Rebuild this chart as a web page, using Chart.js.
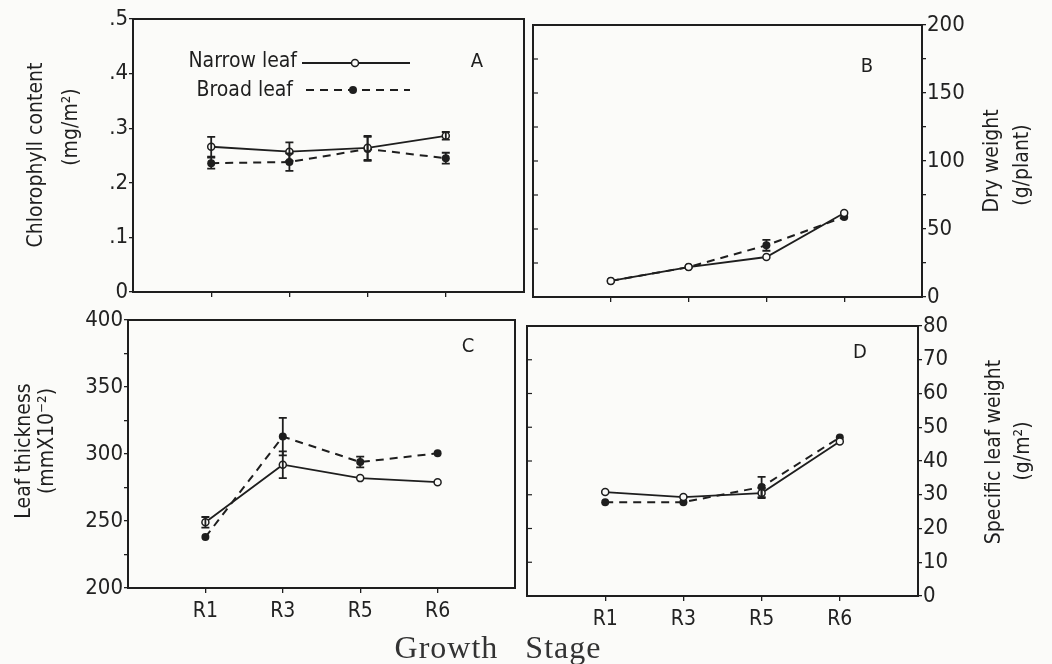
<!DOCTYPE html>
<html>
<head>
<meta charset="utf-8">
<script src="https://cdn.jsdelivr.net/npm/chart.js@4.4.1/dist/chart.umd.min.js"></script>
<style>
  body { margin: 0; background: #fbfbf9; }
  #wrap { position: relative; width: 1052px; height: 664px; overflow: hidden; }
  canvas { position: absolute; left: 0; top: 0; }
  .t { position: absolute; white-space: nowrap; color: #1e1e1e;
       font-family: 'Liberation Sans Narrow', 'DejaVu Sans Condensed', 'Arial Narrow', sans-serif;
       font-size: 21px; transform: translate(-50%, -50%) rotate(-90deg); }
  .stage { position: absolute; left: 498px; top: 647px; transform: translate(-50%, -50%);
           font-family: 'Liberation Serif', serif; font-size: 32px; color: #333;
           letter-spacing: 1px; word-spacing: 18px; white-space: nowrap; }
</style>
</head>
<body>
<div id="wrap">
  <canvas id="cA" width="1052" height="664"></canvas>
  <canvas id="cB" width="1052" height="664"></canvas>
  <canvas id="cC" width="1052" height="664"></canvas>
  <canvas id="cD" width="1052" height="664"></canvas>

  <div class="t" style="left:35px;top:155px">Chlorophyll content</div>
  <div class="t" style="left:70px;top:127px">(mg/m²)</div>
  <div class="t" style="left:991px;top:161px">Dry weight</div>
  <div class="t" style="left:1021px;top:165px">(g/plant)</div>
  <div class="t" style="left:23px;top:451px">Leaf thickness</div>
  <div class="t" style="left:46px;top:441px">(mmX10⁻²)</div>
  <div class="t" style="left:993px;top:452px">Specific leaf weight</div>
  <div class="t" style="left:1022px;top:451px">(g/m²)</div>
  <div class="stage">Growth Stage</div>
</div>

<script>
// growth stages on the x axis
const stages = ['R1', 'R3', 'R5', 'R6'];

// A: chlorophyll content (mg/m2)
const chlNarrow = [0.266, 0.257, 0.264, 0.286];
const chlNarrowErr = [0.018, 0.017, 0.022, 0.007];
const chlBroad = [0.236, 0.238, 0.262, 0.245];
const chlBroadErr = [0.010, 0.016, 0.022, 0.010];
const chlTicks = ['0', '.1', '.2', '.3', '.4', '.5'];

// B: dry weight (g/plant)
const dwNarrow = [11.8, 22, 29.4, 61.8];
const dwNarrowErr = [0, 0, 0, 0];
const dwBroad = [11.8, 22, 38, 58.8];
const dwBroadErr = [0, 0, 4, 0];
const dwTicks = ['0', '50', '100', '150', '200'];

// C: leaf thickness (mm x 10^-2)
const thkNarrow = [249, 292, 282, 279];
const thkNarrowErr = [4, 10, 0, 0];
const thkBroad = [238, 313, 294, 300.5];
const thkBroadErr = [0, 14, 4, 0];
const thkTicks = ['200', '250', '300', '350', '400'];

// D: specific leaf weight (g/m2)
const slwNarrow = [30.8, 29.3, 30.5, 45.8];
const slwNarrowErr = [0, 0, 1.5, 0];
const slwBroad = [27.8, 27.8, 32.3, 47];
const slwBroadErr = [0, 0, 3, 0];
const slwTicks = ['0', '10', '20', '30', '40', '50', '60', '70', '80'];

const INK = '#1e1e1e';
const NARROW_FONT = "'Liberation Sans Narrow', 'DejaVu Sans Condensed', 'Arial Narrow', sans-serif";

// box, error bars, inner ticks, panel letter
const panelPlugin = {
  id: 'panel',
  afterDatasetsDraw(chart, args, opts) {
    const ctx = chart.ctx;
    const a = chart.chartArea;
    const y = chart.scales.y;
    ctx.save();
    ctx.strokeStyle = INK;
    // error bars
    chart.data.datasets.forEach((ds, di) => {
      if (!ds.err) return;
      const meta = chart.getDatasetMeta(di);
      meta.data.forEach((pt, i) => {
        const e = ds.err[i];
        if (!e) return;
        const v = ds.data[i].y;
        const y1 = y.getPixelForValue(v - e), y2 = y.getPixelForValue(v + e);
        ctx.lineWidth = 1.8;
        ctx.beginPath();
        ctx.moveTo(pt.x, y1); ctx.lineTo(pt.x, y2);
        ctx.moveTo(pt.x - 4, y1); ctx.lineTo(pt.x + 4, y1);
        ctx.moveTo(pt.x - 4, y2); ctx.lineTo(pt.x + 4, y2);
        ctx.stroke();
      });
    });
    // frame
    ctx.lineWidth = 2;
    ctx.strokeRect(a.left, a.top, a.right - a.left, a.bottom - a.top);
    // inner ticks on the side without labels
    if (opts.innerTicks) {
      ctx.lineWidth = 1.2;
      const x0 = opts.innerTicks === 'left' ? a.left : a.right;
      const dir = opts.innerTicks === 'left' ? 1 : -1;
      y.ticks.forEach(t => {
        const py = y.getPixelForValue(t.value);
        ctx.beginPath(); ctx.moveTo(x0, py); ctx.lineTo(x0 + dir * 5, py); ctx.stroke();
      });
    }
    // panel letter
    ctx.fillStyle = INK;
    ctx.font = '20px ' + NARROW_FONT;
    ctx.textAlign = 'center';
    ctx.textBaseline = 'middle';
    ctx.fillText(opts.letter, opts.lx, opts.ly);
    ctx.restore();
  }
};

// legend inside panel A
const legendPlugin = {
  id: 'legendA',
  afterDraw(chart, args, opts) {
    if (!opts.show) return;
    const ctx = chart.ctx;
    ctx.save();
    ctx.fillStyle = INK;
    ctx.strokeStyle = INK;
    ctx.font = '21px ' + NARROW_FONT;
    ctx.textAlign = 'right';
    ctx.textBaseline = 'alphabetic';
    ctx.fillText('Narrow leaf', 297, 67);
    ctx.fillText('Broad leaf', 293, 96);
    ctx.lineWidth = 2;
    ctx.beginPath(); ctx.moveTo(302, 63); ctx.lineTo(410, 63); ctx.stroke();
    ctx.setLineDash([8, 6]);
    ctx.beginPath(); ctx.moveTo(306, 90); ctx.lineTo(410, 90); ctx.stroke();
    ctx.setLineDash([]);
    ctx.lineWidth = 1.5;
    ctx.fillStyle = '#fbfbf9';
    ctx.beginPath(); ctx.arc(355, 63, 3.5, 0, Math.PI * 2); ctx.fill(); ctx.stroke();
    ctx.fillStyle = INK;
    ctx.beginPath(); ctx.arc(353, 90, 4, 0, Math.PI * 2); ctx.fill();
    ctx.restore();
  }
};

function pts(vals) {
  return vals.map((v, i) => ({ x: i + 1, y: v }));
}

function makePanel(id, cfg) {
  const yWidth = 48, xHeight = 36;
  const pad = cfg.yPos === 'left'
    ? { left: cfg.area.left - yWidth, right: 1052 - cfg.area.right, top: cfg.area.top, bottom: 664 - cfg.area.bottom - xHeight }
    : { left: cfg.area.left, right: 1052 - cfg.area.right - yWidth, top: cfg.area.top, bottom: 664 - cfg.area.bottom - xHeight };
  new Chart(document.getElementById(id), {
    type: 'line',
    data: {
      datasets: [
        {
          label: 'Narrow leaf',
          data: pts(cfg.narrow), err: cfg.narrowErr,
          borderColor: INK, borderWidth: 1.8,
          pointRadius: 3.5, pointBackgroundColor: '#fbfbf9', pointBorderColor: INK, pointBorderWidth: 1.5,
          tension: 0
        },
        {
          label: 'Broad leaf',
          data: pts(cfg.broad), err: cfg.broadErr,
          borderColor: INK, borderWidth: 2, borderDash: [8, 6],
          pointRadius: 4, pointBackgroundColor: INK, pointBorderColor: INK, pointBorderWidth: 0,
          tension: 0
        }
      ]
    },
    options: {
      responsive: false,
      animation: false,
      layout: { padding: pad },
      plugins: {
        legend: { display: false },
        tooltip: { enabled: false },
        panel: { letter: cfg.letter, lx: cfg.lx, ly: cfg.ly, innerTicks: cfg.innerTicks },
        legendA: { show: !!cfg.legend }
      },
      scales: {
        x: {
          type: 'linear', min: 0, max: 5,
          afterBuildTicks: s => { s.ticks = stages.map((_, i) => ({ value: i + 1 })); },
          afterFit: s => { s.height = xHeight; },
          grid: { drawOnChartArea: false, drawTicks: true, tickLength: 5, color: INK, lineWidth: 1.3 },
          border: { display: false },
          ticks: {
            color: '#222', padding: 6,
            font: { family: NARROW_FONT, size: 21 },
            callback: v => cfg.xLabels ? stages[v - 1] : ''
          }
        },
        y: {
          position: cfg.yPos,
          min: cfg.min, max: cfg.max,
          afterBuildTicks: s => {
            const t = [];
            for (let k = 0; k <= Math.round((cfg.max - cfg.min) / cfg.minor); k++) t.push({ value: cfg.min + k * cfg.minor });
            s.ticks = t;
          },
          afterFit: s => { s.width = yWidth; },
          grid: { drawOnChartArea: false, drawTicks: true, tickLength: 4, color: INK, lineWidth: 1.3 },
          border: { display: false },
          ticks: {
            color: '#222', padding: 1,
            font: { family: NARROW_FONT, size: 22 },
            callback: (v, i) => (i % cfg.every === 0) ? cfg.labels[i / cfg.every] : ''
          }
        }
      }
    },
    plugins: [panelPlugin, legendPlugin]
  });
}

makePanel('cA', {
  area: { left: 133, top: 19, right: 524, bottom: 292 }, yPos: 'left',
  narrow: chlNarrow, narrowErr: chlNarrowErr, broad: chlBroad, broadErr: chlBroadErr,
  min: 0, max: 0.5, minor: 0.05, every: 2, labels: chlTicks,
  letter: 'A', lx: 477, ly: 62, legend: true, xLabels: false
});
makePanel('cB', {
  area: { left: 533, top: 25, right: 922, bottom: 297 }, yPos: 'right',
  narrow: dwNarrow, narrowErr: dwNarrowErr, broad: dwBroad, broadErr: dwBroadErr,
  min: 0, max: 200, minor: 25, every: 2, labels: dwTicks,
  letter: 'B', lx: 867, ly: 67, innerTicks: 'left', xLabels: false
});
makePanel('cC', {
  area: { left: 128, top: 320, right: 515, bottom: 588 }, yPos: 'left',
  narrow: thkNarrow, narrowErr: thkNarrowErr, broad: thkBroad, broadErr: thkBroadErr,
  min: 200, max: 400, minor: 25, every: 2, labels: thkTicks,
  letter: 'C', lx: 468, ly: 347, xLabels: true
});
makePanel('cD', {
  area: { left: 527, top: 326, right: 918, bottom: 596 }, yPos: 'right',
  narrow: slwNarrow, narrowErr: slwNarrowErr, broad: slwBroad, broadErr: slwBroadErr,
  min: 0, max: 80, minor: 5, every: 2, labels: slwTicks,
  letter: 'D', lx: 860, ly: 353, innerTicks: 'left', xLabels: true
});
</script>
</body>
</html>
